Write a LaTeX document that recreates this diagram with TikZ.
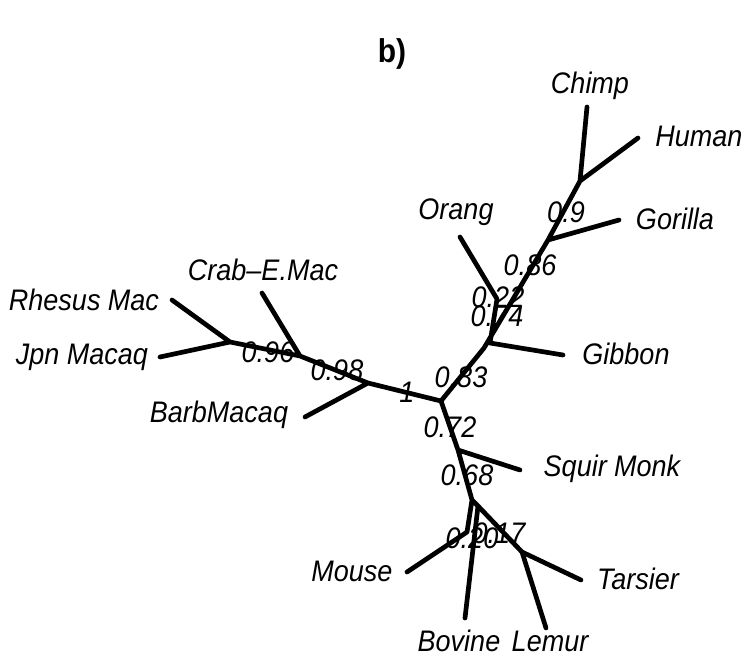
\documentclass[tikz,border=0pt]{standalone}
\usepackage{fontspec}
\usepackage{graphicx}
\setmainfont{Liberation Sans}
\usetikzlibrary{positioning}

% R draws its text a little taller than wide
\newcommand{\tallish}[1]{\scalebox{1}[1.1]{#1}}

\tikzset{
	branch/.style={line width=4.7pt, line cap=round},
	taxon/.style={font=\fontsize{27}{30}\selectfont\itshape, inner sep=0pt},
	support/.style={font=\fontsize{27}{30}\selectfont\itshape, inner sep=0pt}
}

\begin{document}
\begin{tikzpicture}[x=1pt,y=-1pt]
	\useasboundingbox (0,0) rectangle (744,658);
	\node[font=\fontsize{30}{32}\selectfont\bfseries] (title) at (392,54) {\tallish{b)}};

	% internal nodes
	\coordinate (r) at (441,401);
	\coordinate (barb) at (368,383);
	\coordinate (crab) at (300,356);
	\coordinate (rhjp) at (230,342);
	\coordinate (hom) at (484,348);
	\coordinate (gib) at (490,343);
	\coordinate (ora) at (497,299);
	\coordinate (gor) at (548,240);
	\coordinate (chhu) at (580,181);
	\coordinate (squ) at (458,450);
	\coordinate (mid) at (472,500);
	\coordinate (mou) at (467,532);
	\coordinate (bov) at (478,506);
	\coordinate (lets) at (522,552);

	% leaves
	\coordinate (tChimp) at (587,107);
	\coordinate (tHuman) at (638,138);
	\coordinate (tGorilla) at (619,220);
	\coordinate (tOrang) at (460,237);
	\coordinate (tGibbon) at (563,355);
	\coordinate (tSquir) at (520,470);
	\coordinate (tTarsier) at (581,580);
	\coordinate (tLemur) at (546,628);
	\coordinate (tBovine) at (465,618);
	\coordinate (tMouse) at (407,572);
	\coordinate (tBarb) at (305,417);
	\coordinate (tCrab) at (262,293);
	\coordinate (tRhesus) at (172,300);
	\coordinate (tJpn) at (160,357);

	\path[branch, draw]
	(r) -- (barb) (barb) -- (tBarb) (barb) -- (crab) (crab) -- (tCrab)
	(crab) -- (rhjp) (rhjp) -- (tRhesus) (rhjp) -- (tJpn)
	(r) -- (hom) (hom) -- (gor) (gib) -- (tGibbon) (gib) -- (ora) (ora) -- (tOrang)
	(gor) -- (tGorilla) (gor) -- (chhu) (chhu) -- (tChimp) (chhu) -- (tHuman)
	(r) -- (squ) (squ) -- (tSquir) (squ) -- (mid)
	(mid) -- (mou) (mou) -- (tMouse)
	(mid) -- (bov) (bov) -- (tBovine) (bov) -- (lets)
	(lets) -- (tTarsier) (lets) -- (tLemur);

	% taxon names
	\node[taxon] (lChimp) at (590,86) {\tallish{Chimp}};
	\node[taxon] (lHuman) at (699,136) {\tallish{Human}};
	\node[taxon] (lGorilla) at (675,219) {\tallish{Gorilla}};
	\node[taxon] (lOrang) at (456,212) {\tallish{Orang}};
	\node[taxon] (lGibbon) at (626,354) {\tallish{Gibbon}};
	\node[taxon] (lSquir) at (612,469) {\tallish{Squir Monk}};
	\node[taxon] (lTarsier) at (638,579) {\tallish{Tarsier}};
	\node[taxon] (lLemur) at (550,641) {\tallish{Lemur}};
	\node[taxon] (lBovine) at (459,641) {\tallish{Bovine}};
	\node[taxon] (lMouse) at (352,571) {\tallish{Mouse}};
	\node[taxon] (lBarb) at (219,415) {\tallish{BarbMacaq}};
	\node[taxon] (lCrab) at (263,270) {\tallish{Crab\textendash E.Mac}};
	\node[taxon] (lRhesus) at (84,300) {\tallish{Rhesus Mac}};
	\node[taxon] (lJpn) at (82,357) {\tallish{Jpn Macaq}};

	% support values
	\node[support] (s1) at (407,392) {\tallish{1}};
	\node[support] (s98) at (337,370) {\tallish{0.98}};
	\node[support] (s96) at (268,352) {\tallish{0.96}};
	\node[support] (s83) at (461,377) {\tallish{0.83}};
	\node[support] (s74) at (497,316) {\tallish{0.74}};
	\node[support] (s22) at (498,297) {\tallish{0.22}};
	\node[support] (s86) at (530,265) {\tallish{0.86}};
	\node[support] (s9) at (566,212) {\tallish{0.9}};
	\node[support] (s72) at (450,427) {\tallish{0.72}};
	\node[support] (s68) at (467,475) {\tallish{0.68}};
	\node[support] (s20) at (472,538) {\tallish{0.20}};
	\node[support] (s17) at (499,533) {\tallish{0.17}};
\end{tikzpicture}
\end{document}
